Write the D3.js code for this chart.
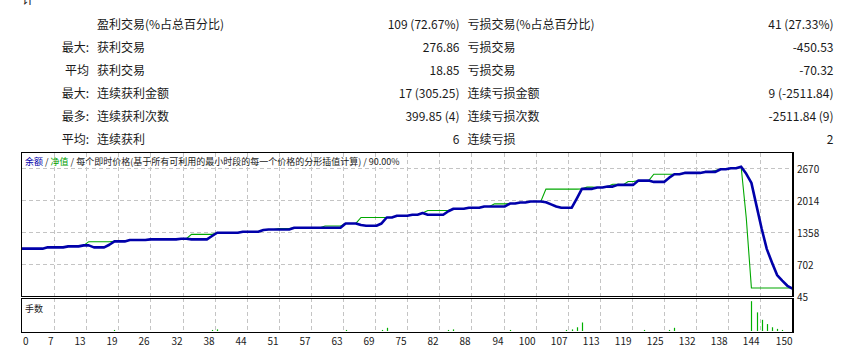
<!DOCTYPE html>
<html>
<head>
<meta charset="utf-8">
<script src="https://cdn.jsdelivr.net/npm/d3@7/dist/d3.min.js"></script>
<style>
    body { margin: 0; background: #fff; }
    text { font-family: "Noto Sans CJK SC", "Noto Sans", sans-serif; fill: #1a1a1a; }
</style>
</head>
<body>
<div id="report"></div>
<script>
// summary table
const colLabels = ['', '最大:', '平均', '最大:', '最多:', '平均:'];
const winLabels = ['盈利交易(%占总百分比)', '获利交易', '获利交易', '连续获利金额', '连续获利次数', '连续获利'];
const winValues = ['109 (72.67%)', '276.86', '18.85', '17 (305.25)', '399.85 (4)', '6'];
const lossLabels = ['亏损交易(%占总百分比)', '亏损交易', '亏损交易', '连续亏损金额', '连续亏损次数', '连续亏损'];
const lossValues = ['41 (27.33%)', '-450.53', '-70.32', '9 (-2511.84)', '-2511.84 (9)', '2'];

// balance after each trade (0..150)
const balance = [
    1019, 1019, 1019, 1019, 1019, 1046, 1046, 1046, 1046, 1066,
    1066, 1066, 1087, 1087, 1046, 1046, 1046, 1100, 1169, 1169,
    1169, 1198, 1198, 1198, 1198, 1210, 1210, 1210, 1210, 1210,
    1210, 1224, 1224, 1210, 1210, 1210, 1210, 1280, 1347, 1347,
    1347, 1347, 1347, 1368, 1368, 1368, 1368, 1403, 1415, 1415,
    1415, 1415, 1415, 1450, 1450, 1450, 1450, 1450, 1450, 1450,
    1450, 1450, 1450, 1538, 1538, 1538, 1505, 1491, 1491, 1491,
    1538, 1661, 1661, 1696, 1696, 1696, 1717, 1717, 1751, 1717,
    1717, 1717, 1717, 1790, 1840, 1840, 1840, 1860, 1860, 1860,
    1887, 1887, 1887, 1887, 1887, 1948, 1948, 1969, 1969, 1989,
    1989, 1989, 1975, 1930, 1887, 1860, 1860, 1860, 2050, 2250,
    2250, 2250, 2277, 2277, 2297, 2297, 2332, 2332, 2332, 2332,
    2420, 2420, 2420, 2393, 2393, 2393, 2480, 2551, 2551, 2578,
    2578, 2578, 2578, 2599, 2599, 2599, 2654, 2654, 2674, 2674,
    2707, 2560, 2373, 1900, 1430, 1010, 735, 475, 360, 255,
    196
];

// equity after each trade (0..150)
const equity = [
    1019, 1019, 1019, 1019, 1019, 1046, 1046, 1046, 1046, 1066,
    1066, 1066, 1087, 1163, 1163, 1163, 1163, 1163, 1169, 1169,
    1169, 1198, 1198, 1198, 1198, 1210, 1210, 1210, 1210, 1210,
    1210, 1224, 1224, 1313, 1313, 1313, 1313, 1313, 1347, 1347,
    1347, 1347, 1347, 1368, 1368, 1368, 1368, 1403, 1415, 1415,
    1435, 1435, 1435, 1450, 1450, 1450, 1450, 1450, 1450, 1485,
    1485, 1485, 1485, 1538, 1538, 1538, 1661, 1661, 1661, 1661,
    1661, 1661, 1661, 1696, 1696, 1696, 1717, 1717, 1751, 1805,
    1805, 1805, 1805, 1805, 1840, 1840, 1840, 1860, 1860, 1860,
    1887, 1887, 1942, 1942, 1942, 1948, 1948, 1969, 1969, 1989,
    1989, 1989, 2244, 2244, 2244, 2244, 2244, 2244, 2244, 2250,
    2285, 2285, 2277, 2277, 2297, 2346, 2346, 2332, 2400, 2400,
    2420, 2420, 2420, 2551, 2551, 2551, 2551, 2551, 2551, 2578,
    2578, 2578, 2578, 2599, 2599, 2625, 2654, 2654, 2674, 2674,
    2707, 1650, 210, 210, 210, 210, 210, 210, 210, 210,
    210
];

// lots (手数) per trade
const lotTrades = [18, 37, 38, 63, 70, 71, 83, 84, 95, 106, 107, 108, 109, 121, 126, 127, 142, 143, 144, 145, 146, 147, 148];
const lotValues = [0.02, 0.02, 0.03, 0.02, 0.02, 0.06, 0.02, 0.03, 0.02, 0.02, 0.03, 0.07, 0.16, 0.02, 0.02, 0.06, 0.56, 0.35, 0.21, 0.13, 0.07, 0.04, 0.02];

const yTicks = [45, 702, 1358, 2014, 2670];
const xTickLabels = ['0', '7', '13', '19', '26', '32', '38', '44', '51', '57', '63', '69', '75', '82', '88', '94', '100', '107', '113', '119', '125', '132', '138', '144', '150'];

const W = 844, H = 351;
const plot = {left: 22, right: 792.5, top: 153, bottom: 296};
const sub = {top: 298, bottom: 332};

const svg = d3.select('#report').append('svg')
    .attr('width', W)
    .attr('height', H);

svg.append('rect').attr('width', W).attr('height', H).attr('fill', '#fff');

// cut-off heading at the very top
svg.append('text')
    .attr('x', 22).attr('y', 4)
    .attr('font-size', '12px')
    .text('计');

// table
const rowY = i => 23 + i * 23;
const table = svg.append('g').attr('font-size', '12px').attr('dominant-baseline', 'central');

table.selectAll('.c1').data(colLabels).enter().append('text')
    .attr('x', 89).attr('y', (d, i) => rowY(i)).attr('text-anchor', 'end').text(d => d);
table.selectAll('.c2').data(winLabels).enter().append('text')
    .attr('x', 97).attr('y', (d, i) => rowY(i)).text(d => d);
table.selectAll('.c3').data(winValues).enter().append('text')
    .attr('x', 459.5).attr('y', (d, i) => rowY(i)).attr('text-anchor', 'end').text(d => d);
table.selectAll('.c4').data(lossLabels).enter().append('text')
    .attr('x', 467.5).attr('y', (d, i) => rowY(i)).text(d => d);
table.selectAll('.c5').data(lossValues).enter().append('text')
    .attr('x', 833.5).attr('y', (d, i) => rowY(i)).attr('text-anchor', 'end').text(d => d);

// scales
const x = d3.scaleLinear().domain([0, 150]).range([plot.left, plot.right]);
const y = d3.scaleLinear().domain([45, 2988]).range([plot.bottom, plot.top]);
const yLot = d3.scaleLinear().domain([0, 0.62]).range([sub.bottom - 1, sub.top]);

const gridSteps = d3.range(xTickLabels.length).map(k => k * 150 / (xTickLabels.length - 1));

// grid
const grid = svg.append('g')
    .attr('stroke', '#c4c4c4')
    .attr('stroke-dasharray', '4,3')
    .attr('shape-rendering', 'crispEdges');

gridSteps.slice(1, -1).forEach(v => {
    grid.append('line')
        .attr('x1', Math.round(x(v)) + 0.5).attr('x2', Math.round(x(v)) + 0.5)
        .attr('y1', plot.top).attr('y2', plot.bottom);
    grid.append('line')
        .attr('x1', Math.round(x(v)) + 0.5).attr('x2', Math.round(x(v)) + 0.5)
        .attr('y1', sub.top).attr('y2', sub.bottom);
});
yTicks.slice(1).forEach(v => {
    grid.append('line')
        .attr('x1', plot.left).attr('x2', plot.right)
        .attr('y1', Math.round(y(v)) + 0.5).attr('y2', Math.round(y(v)) + 0.5);
});

// lots bars
svg.append('g').selectAll('line')
    .data(lotTrades)
    .enter().append('line')
    .attr('x1', d => Math.round(x(d)) + 0.5)
    .attr('x2', d => Math.round(x(d)) + 0.5)
    .attr('y1', sub.bottom - 1)
    .attr('y2', (d, i) => yLot(lotValues[i]))
    .attr('stroke', '#00b000')
    .attr('stroke-width', 1.2);

// lines
const line = d3.line()
    .x((d, i) => x(i))
    .y(d => y(d));

svg.append('path')
    .datum(equity)
    .attr('d', line)
    .attr('fill', 'none')
    .attr('stroke', '#00a800')
    .attr('stroke-width', 1.1);

svg.append('path')
    .datum(balance)
    .attr('d', line)
    .attr('fill', 'none')
    .attr('stroke', '#0000aa')
    .attr('stroke-width', 2.6)
    .attr('stroke-linejoin', 'round');

// panel borders
const frame = svg.append('g')
    .attr('fill', 'none')
    .attr('stroke', '#000')
    .attr('shape-rendering', 'crispEdges');
frame.append('rect')
    .attr('x', plot.left - 0.5).attr('y', plot.top - 0.5)
    .attr('width', plot.right - plot.left + 1).attr('height', plot.bottom - plot.top + 1)
    .attr('stroke-width', 1.3);
frame.append('rect')
    .attr('x', plot.left - 0.5).attr('y', sub.top + 0.5)
    .attr('width', plot.right - plot.left + 1).attr('height', sub.bottom - sub.top)
    .attr('stroke-width', 1.3);

// chart titles
const title = svg.append('text')
    .attr('x', 25).attr('y', 161)
    .attr('font-size', '9px')
    .attr('dominant-baseline', 'central');
title.append('tspan').attr('fill', '#0000aa').text('余额');
title.append('tspan').text(' / ');
title.append('tspan').attr('fill', '#00a000').text('净值');
title.append('tspan').text(' / 每个即时价格(基于所有可利用的最小时段的每一个价格的分形插值计算) / 90.00%');

svg.append('text')
    .attr('x', 25).attr('y', 308)
    .attr('font-size', '9px')
    .attr('dominant-baseline', 'central')
    .text('手数');

// y labels
svg.append('g').selectAll('text')
    .data(yTicks)
    .enter().append('text')
    .attr('x', 797)
    .attr('y', d => y(d) + 0.5)
    .attr('font-size', '10px')
    .attr('dominant-baseline', 'central')
    .text(d => d);

// x labels
svg.append('g').selectAll('text')
    .data(xTickLabels)
    .enter().append('text')
    .attr('x', (d, i) => i === 0 ? 23 : Math.round(x(gridSteps[i])) - 0.5)
    .attr('y', 340)
    .attr('font-size', '10px')
    .attr('text-anchor', (d, i) => i === 0 ? 'start' : 'end')
    .attr('dominant-baseline', 'central')
    .text(d => d);
</script>
</body>
</html>
